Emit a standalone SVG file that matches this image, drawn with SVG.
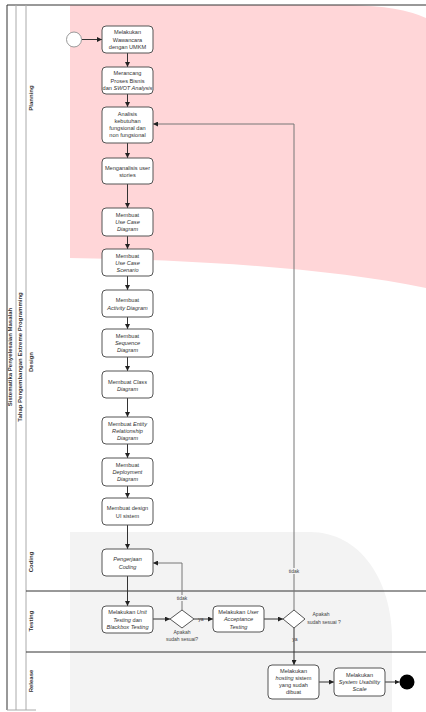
<svg xmlns="http://www.w3.org/2000/svg" width="426" height="712" viewBox="0 0 426 712">
<style>
.bg{fill:#ffffff}
.box{fill:#ffffff;stroke:#555;stroke-width:1}
.t{font-family:"Liberation Sans",Arial,sans-serif;font-size:5.6px;fill:#333;text-anchor:middle}
.i{font-style:italic}
.lane{font-family:"Liberation Sans",Arial,sans-serif;font-size:6px;font-weight:bold;fill:#333;text-anchor:middle}
.ln{stroke:#333;stroke-width:1;fill:none}
.lg{stroke:#aaa;stroke-width:1;fill:none}
.c{stroke:#333;stroke-width:1;fill:none;marker-end:url(#ah)}
.cl{stroke:#777;stroke-width:1;fill:none;marker-end:url(#ah)}
.lbl{font-family:"Liberation Sans",Arial,sans-serif;font-size:5px;fill:#444;text-anchor:middle}
</style>
<defs>
<marker id="ah" markerUnits="userSpaceOnUse" markerWidth="5" markerHeight="5" refX="5" refY="2.5" orient="auto">
<path d="M0,0 L5,2.5 L0,5 Z" fill="#222"/>
</marker>
</defs>
<rect class="bg" x="0" y="0" width="426" height="712"/>
<g id="backgrounds">
<path d="M70,5 L350,5 Q400,6 426,18 L426,288 C330,268 200,260 70,258 Z" fill="#ffd6d8"/>
<path d="M70,532 L310,532 C360,532 392,580 392,640 L392,712 L70,712 Z" fill="#f3f3f3"/>
</g>
<g id="frame">
<line class="ln" x1="7" y1="5" x2="426" y2="5" stroke-width="1.5"/>
<line class="ln" x1="7" y1="5" x2="7" y2="710" stroke-width="1.5"/>
<line class="lg" x1="16" y1="5" x2="16" y2="710"/>
<line class="lg" x1="26" y1="5" x2="26" y2="710"/>
<line class="lg" x1="7" y1="710" x2="36" y2="710"/>
<line class="ln" x1="26" y1="591" x2="426" y2="591"/>
<line class="ln" x1="26" y1="652" x2="426" y2="652"/>
<text class="lane" transform="translate(12,357) rotate(-90)">Sistematika Penyelesaian Masalah</text>
<text class="lane" transform="translate(22,357) rotate(-90)">Tahap Pengembangan Extreme Programming</text>
<text class="lane" transform="translate(33,98) rotate(-90)">Planning</text>
<text class="lane" transform="translate(33,362) rotate(-90)">Design</text>
<text class="lane" transform="translate(33,562) rotate(-90)">Coding</text>
<text class="lane" transform="translate(33,621) rotate(-90)">Testing</text>
<text class="lane" transform="translate(33,681) rotate(-90)">Release</text>
</g>
<g id="connectors">
<line class="c" x1="81.5" y1="39.5" x2="102" y2="39.5"/>
<line class="c" x1="127.5" y1="53" x2="127.5" y2="67"/>
<line class="c" x1="127.5" y1="94" x2="127.5" y2="107"/>
<line class="c" x1="127.5" y1="143" x2="127.5" y2="158"/>
<line class="c" x1="127.5" y1="184" x2="127.5" y2="208"/>
<line class="c" x1="127.5" y1="236" x2="127.5" y2="249"/>
<line class="c" x1="127.5" y1="276" x2="127.5" y2="290"/>
<line class="c" x1="127.5" y1="317" x2="127.5" y2="329"/>
<line class="c" x1="127.5" y1="357" x2="127.5" y2="371"/>
<line class="c" x1="127.5" y1="398" x2="127.5" y2="417"/>
<line class="c" x1="127.5" y1="444" x2="127.5" y2="458"/>
<line class="c" x1="127.5" y1="486" x2="127.5" y2="498"/>
<line class="c" x1="127.5" y1="525" x2="127.5" y2="549"/>
<line class="c" x1="127.5" y1="576" x2="127.5" y2="606"/>
<line class="c" x1="153" y1="619" x2="170" y2="619"/>
<line class="c" x1="194" y1="619" x2="213" y2="619"/>
<line class="c" x1="264" y1="619" x2="283" y2="619"/>
<line class="c" x1="294" y1="628" x2="294" y2="665"/>
<line class="c" x1="319" y1="682" x2="334" y2="682"/>
<line class="c" x1="385" y1="682" x2="399.5" y2="682"/>
<path class="cl" d="M182,610 L182,563 L153,563"/>
<path class="cl" d="M294,610 L294,124 L153,124"/>
<rect x="175" y="595" width="14" height="6" fill="#f3f3f3"/>
<text class="lbl" x="182" y="600">tidak</text>
<rect x="287" y="568" width="14" height="6" fill="#f3f3f3"/>
<text class="lbl" x="294" y="573">tidak</text>
<text class="lbl" x="201" y="621">ya</text>
<text class="lbl" x="295" y="641">ya</text>
<text class="lbl" x="182" y="634">Apakah</text>
<text class="lbl" x="182" y="641">sudah sesuai?</text>
<text class="lbl" x="321" y="616">Apakah</text>
<text class="lbl" x="324" y="624">sudah sesuai ?</text>
</g>
<g id="start"><circle cx="74" cy="39.5" r="7.5" fill="#fff" stroke="#999" stroke-width="1"/></g>
<g id="n1"><rect class="box" x="102" y="26" width="51" height="27" rx="4"/>
<text class="t" x="127.5" y="34">Melakukan</text><text class="t" x="127.5" y="41.5">Wawancara</text><text class="t" x="127.5" y="49">dengan UMKM</text></g>
<g id="n2"><rect class="box" x="102" y="67" width="51" height="27" rx="4"/>
<text class="t" x="127.5" y="75">Merancang</text><text class="t" x="127.5" y="82.5">Proses Bisnis</text><text class="t" x="127.5" y="90">dan <tspan class="i">SWOT Analysis</tspan></text></g>
<g id="n3"><rect class="box" x="102" y="107" width="51" height="36" rx="4"/>
<text class="t" x="127.5" y="115.5">Analisis</text><text class="t" x="127.5" y="122.5">kebutuhan</text><text class="t" x="127.5" y="129.5">fungsional dan</text><text class="t" x="127.5" y="136.5">non fungsional</text></g>
<g id="n4"><rect class="box" x="102" y="158" width="51" height="26" rx="4"/>
<text class="t" x="127.5" y="169.5">Menganalisis user</text><text class="t" x="127.5" y="177">stories</text></g>
<g id="n5"><rect class="box" x="102" y="208" width="51" height="28" rx="4"/>
<text class="t" x="127.5" y="217">Membuat</text><text class="t" x="127.5" y="224" font-style="italic">Use Case</text><text class="t" x="127.5" y="231" font-style="italic">Diagram</text></g>
<g id="n6"><rect class="box" x="102" y="249" width="51" height="27" rx="4"/>
<text class="t" x="127.5" y="257.5">Membuat</text><text class="t" x="127.5" y="264.5" font-style="italic">Use Case</text><text class="t" x="127.5" y="271.5" font-style="italic">Scenario</text></g>
<g id="n7"><rect class="box" x="102" y="290" width="51" height="27" rx="4"/>
<text class="t" x="127.5" y="302">Membuat</text><text class="t" x="127.5" y="309.5" font-style="italic">Activity Diagram</text></g>
<g id="n8"><rect class="box" x="102" y="329" width="51" height="28" rx="4"/>
<text class="t" x="127.5" y="338">Membuat</text><text class="t" x="127.5" y="345" font-style="italic">Sequence</text><text class="t" x="127.5" y="352" font-style="italic">Diagram</text></g>
<g id="n9"><rect class="box" x="102" y="371" width="51" height="27" rx="4"/>
<text class="t" x="127.5" y="383.5">Membuat <tspan class="i">Class</tspan></text><text class="t" x="127.5" y="391" font-style="italic">Diagram</text></g>
<g id="n10"><rect class="box" x="102" y="417" width="51" height="27" rx="4"/>
<text class="t" x="127.5" y="425.5">Membuat <tspan class="i">Entity</tspan></text><text class="t" x="127.5" y="432.5" font-style="italic">Relationship</text><text class="t" x="127.5" y="439.5" font-style="italic">Diagram</text></g>
<g id="n11"><rect class="box" x="102" y="458" width="51" height="28" rx="4"/>
<text class="t" x="127.5" y="467">Membuat</text><text class="t" x="127.5" y="474" font-style="italic">Deployment</text><text class="t" x="127.5" y="481" font-style="italic">Diagram</text></g>
<g id="n12"><rect class="box" x="102" y="498" width="51" height="27" rx="4"/>
<text class="t" x="127.5" y="510">Membuat design</text><text class="t" x="127.5" y="517.5">UI sistem</text></g>
<g id="n13"><rect class="box" x="102" y="549" width="51" height="27" rx="4"/>
<text class="t" x="127.5" y="561" font-style="italic">Pengerjaan</text><text class="t" x="127.5" y="568.5" font-style="italic">Coding</text></g>
<g id="n14"><rect class="box" x="102" y="606" width="51" height="27" rx="4"/>
<text class="t" x="127.5" y="614">Melakukan <tspan class="i">Unit</tspan></text><text class="t" x="127.5" y="621.5"><tspan class="i">Testing</tspan> dan</text><text class="t" x="127.5" y="629" font-style="italic">Blackbox Testing</text></g>
<g id="d1"><path d="M182,610 L194,619 L182,628 L170,619 Z" fill="#fff" stroke="#555" stroke-width="1"/></g>
<g id="n15"><rect class="box" x="213" y="606" width="51" height="26" rx="4"/>
<text class="t" x="238.5" y="613.5">Melakukan <tspan class="i">User</tspan></text><text class="t" x="238.5" y="621" font-style="italic">Acceptance</text><text class="t" x="238.5" y="628.5" font-style="italic">Testing</text></g>
<g id="d2"><path d="M294,610 L305,619 L294,628 L283,619 Z" fill="#fff" stroke="#555" stroke-width="1"/></g>
<g id="n16"><rect class="box" x="268" y="665" width="51" height="34" rx="4"/>
<text class="t" x="293.5" y="673">Melakukan</text><text class="t" x="293.5" y="680" font-style="italic">hosting <tspan font-style="normal">sistem</tspan></text><text class="t" x="293.5" y="687">yang sudah</text><text class="t" x="293.5" y="694">dibuat</text></g>
<g id="n17"><rect class="box" x="334" y="668" width="51" height="28" rx="4"/>
<text class="t" x="359.5" y="676.5">Melakukan</text><text class="t" x="359.5" y="683.5" font-style="italic">System Usability</text><text class="t" x="359.5" y="690.5" font-style="italic">Scale</text></g>
<g id="end"><circle cx="407" cy="682" r="7.5" fill="#000"/></g>
</svg>
